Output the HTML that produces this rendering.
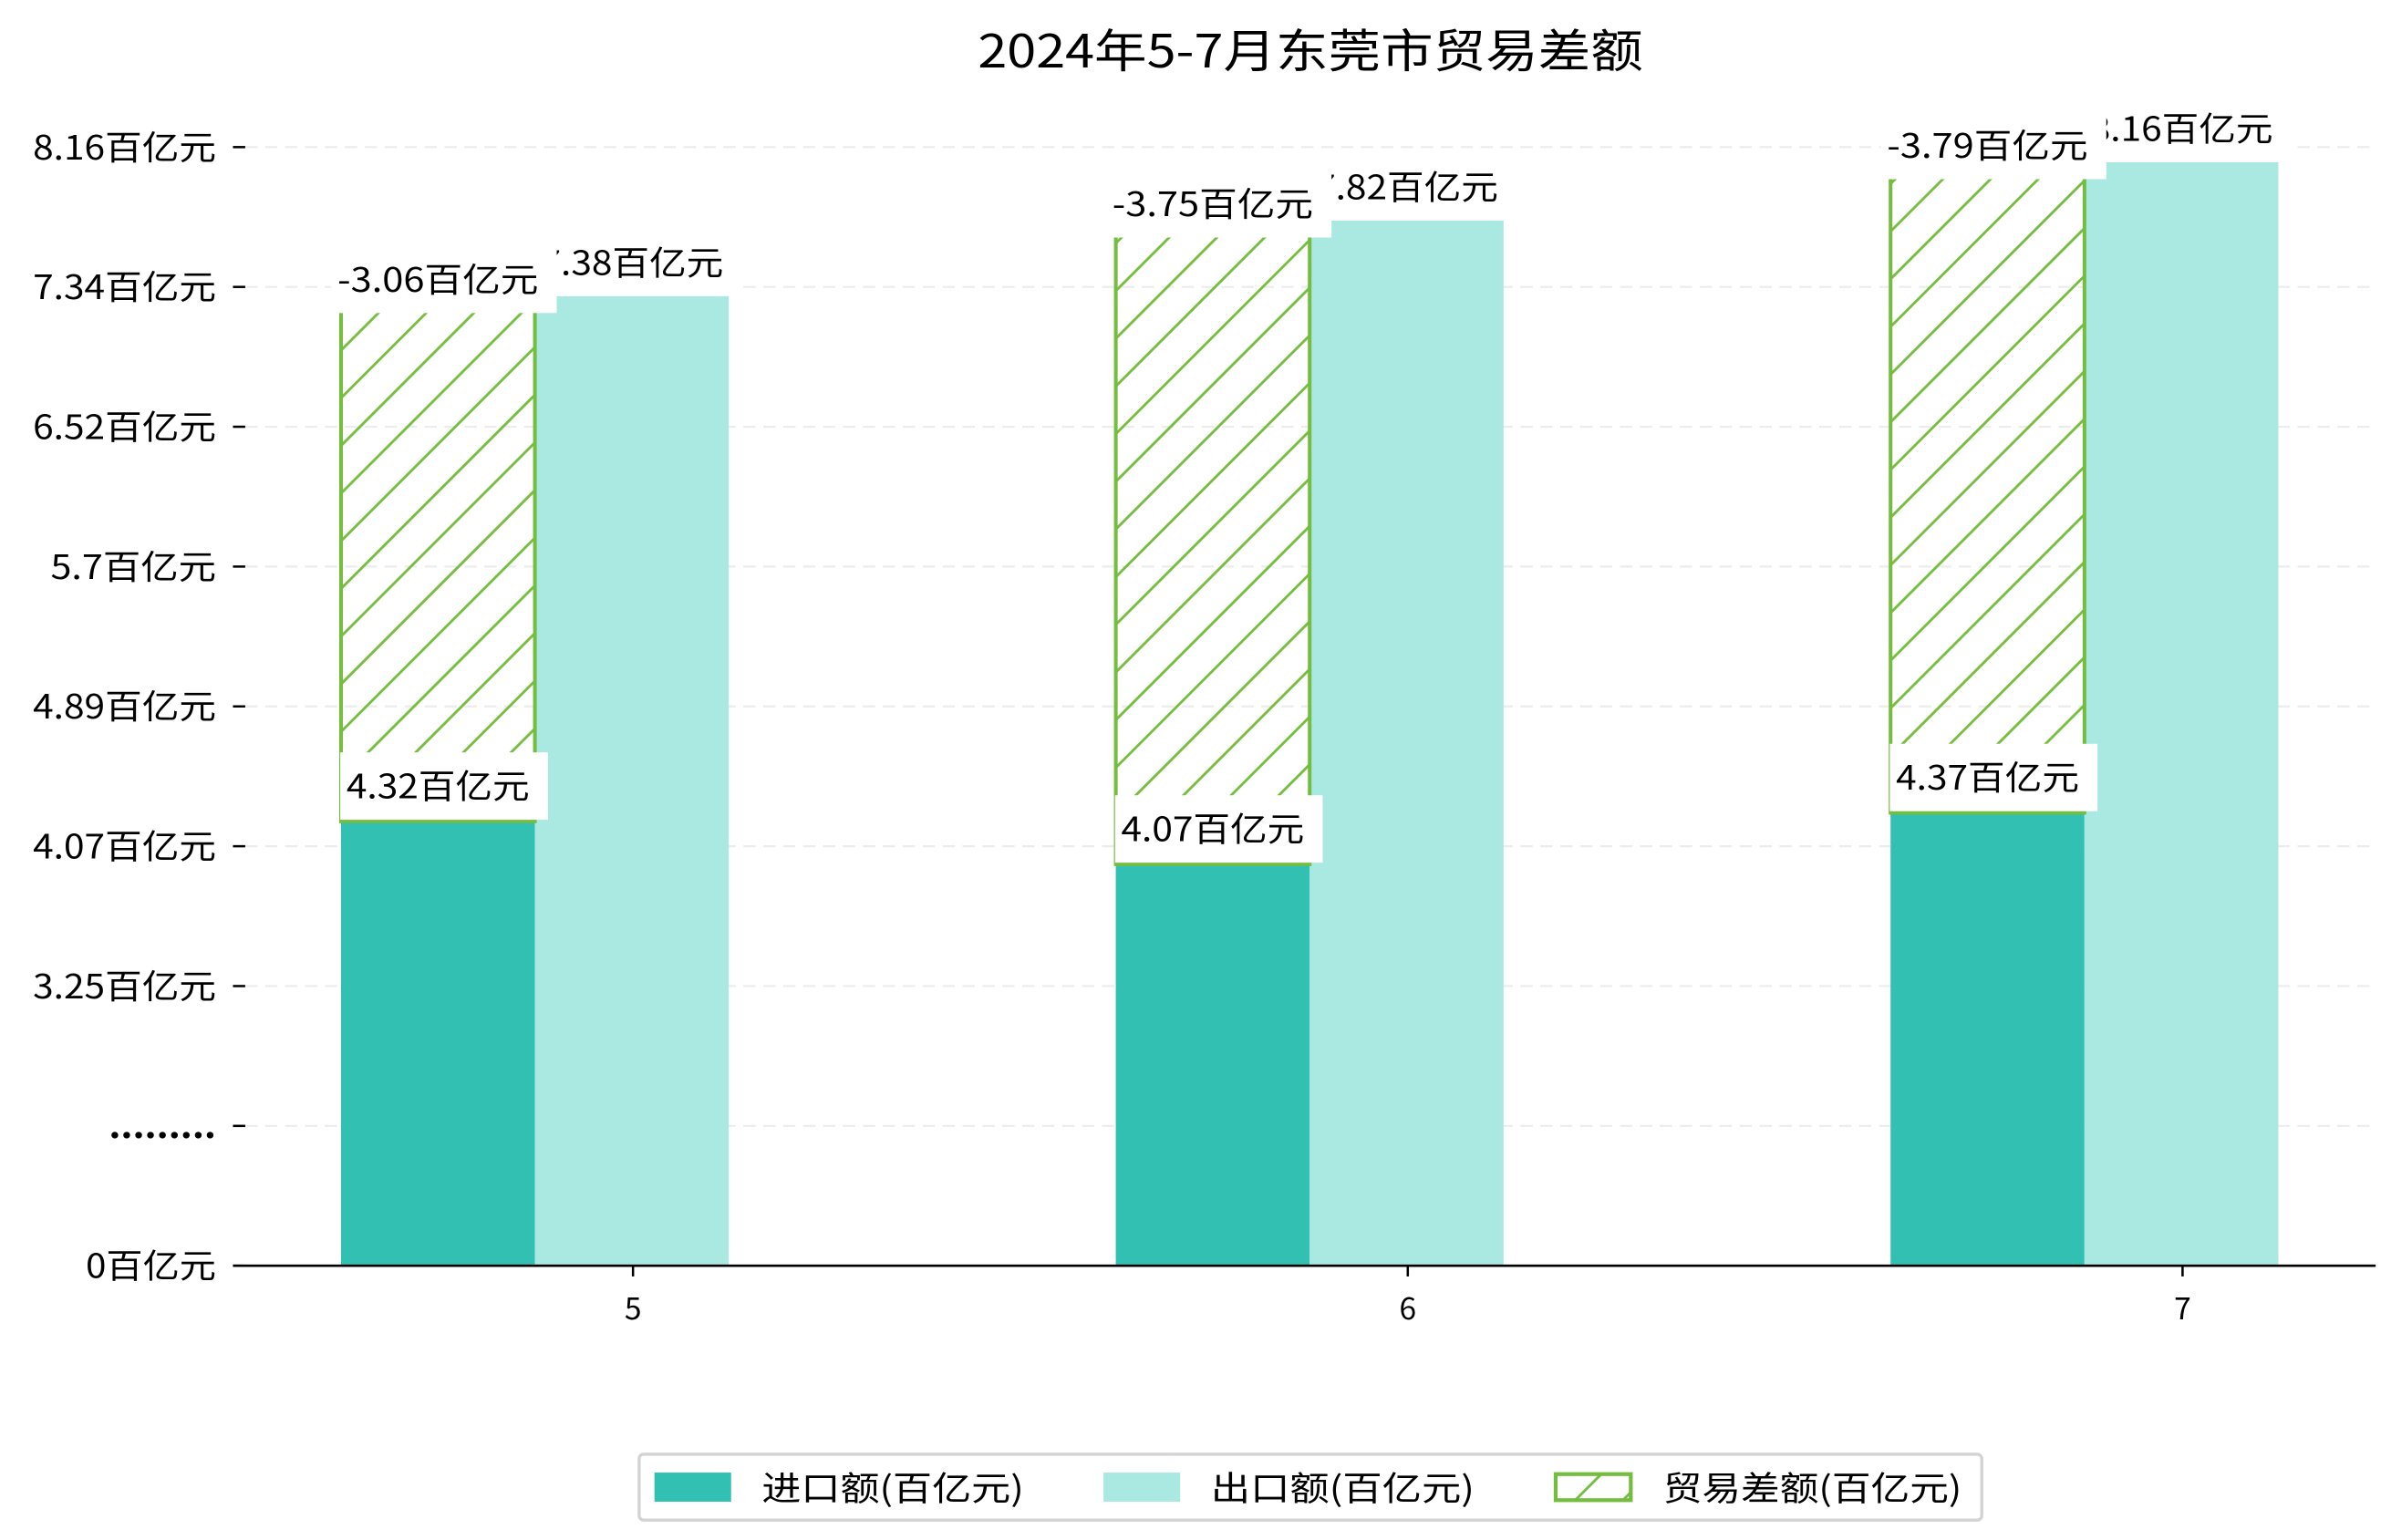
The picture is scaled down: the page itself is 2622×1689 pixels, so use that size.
<!DOCTYPE html>
<html><head><meta charset="utf-8">
<style>
html,body{margin:0;padding:0;background:#fff;}
svg{display:block;}
text{font-family:"Noto Sans CJK SC","WenQuanYi Zen Hei",sans-serif;fill:#000;}
</style></head>
<body>
<svg id="chart" width="2622" height="1689" viewBox="0 0 1560 1005" preserveAspectRatio="none" xmlns="http://www.w3.org/2000/svg">
<defs>
<pattern id="hatch" patternUnits="userSpaceOnUse" width="22" height="22" patternTransform="rotate(45)">
<line x1="11" y1="-1" x2="11" y2="23" stroke="#74bd3e" stroke-width="1.7"/>
</pattern>
</defs>
<text x="855" y="44" font-size="30" text-anchor="middle" textLength="434" lengthAdjust="spacingAndGlyphs">2024年5-7月东莞市贸易差额</text>
<g id="grid"></g>
<g id="bars"></g>
<g id="labels"></g>
<g id="axes"></g>
<g>
<rect x="417" y="949" width="876" height="43" rx="3" fill="#fff" stroke="#d3d3d3" stroke-width="2"/>
<rect x="427" y="961" width="50" height="19" fill="#32c0b3"/>
<text x="497" y="979" font-size="22" textLength="171" lengthAdjust="spacingAndGlyphs">进口额(百亿元)</text>
<rect x="720" y="961" width="50" height="19" fill="#aae8e2"/>
<text x="790" y="979" font-size="22" textLength="172" lengthAdjust="spacingAndGlyphs">出口额(百亿元)</text>
<rect x="1015" y="962" width="49" height="17" fill="url(#hatch)" stroke="#74bd3e" stroke-width="2.5"/>
<text x="1085" y="979" font-size="22" textLength="195" lengthAdjust="spacingAndGlyphs">贸易差额(百亿元)</text>
</g>
</svg>
<script>
const months = ["5", "6", "7"];
const importVals = [4.32, 4.07, 4.37];
const exportVals = [7.38, 7.82, 8.16];
const balanceVals = [-3.06, -3.75, -3.79];
const yTickLabels = ["0百亿元", ".........", "3.25百亿元", "4.07百亿元", "4.89百亿元", "5.7百亿元", "6.52百亿元", "7.34百亿元", "8.16百亿元"];

const NS = "http://www.w3.org/2000/svg";
const baseY = 826, plotLeft = 152, plotRight = 1550;
function yScale(v){ return Math.min(baseY, 1019.84 - 112 * v); }
function xCenter(i){ return 349 + i * 505.5; }
const barW = 126.5;
function tickY(k){ return baseY - k * (baseY - 96) / (yTickLabels.length - 1); }
function textLen(s){ let w = 0; for (const ch of s) w += ch.charCodeAt(0) < 256 ? 11.5 : 24.5; return w; }
function mk(tag, attrs, parent){
  const e = document.createElementNS(NS, tag);
  for (const k in attrs) e.setAttribute(k, attrs[k]);
  parent.appendChild(e); return e;
}
const grid = document.getElementById('grid');
const bars = document.getElementById('bars');
const labels = document.getElementById('labels');
const axes = document.getElementById('axes');

yTickLabels.forEach((lab, k) => {
  const y = tickY(k);
  if (k > 0) {
    const g = mk('line', {x1: 160, x2: plotRight, y1: y, y2: y, stroke: '#ececec', 'stroke-width': 1.3, 'stroke-dasharray': '8,5'}, grid);
    
    
  }
  const t = mk('line', {x1: 152, x2: 160, y1: y, y2: y, stroke: '#000', 'stroke-width': 1.5}, axes);
  
  
  const isDots = lab.indexOf('百') < 0 && lab.indexOf('.') === 0;
  const w = isDots ? 70 : textLen(lab);
  const tx = mk('text', {x: 141, y: y + 8, 'font-size': 22, 'text-anchor': 'end', textLength: w, lengthAdjust: 'spacingAndGlyphs', 'font-weight': isDots ? 'bold' : 'normal'}, axes);
  tx.textContent = lab;
  
  
});
const ax = mk('line', {x1: plotLeft, x2: plotRight, y1: baseY, y2: baseY, stroke: '#000', 'stroke-width': 1.6}, axes);



function addLabel(text, cx, cy, name){
  const g = mk('g', {}, labels);
  
  
  const w = textLen(text);
  mk('rect', {fill: '#fff', x: cx - w / 2 - 4, y: cy - 22, width: w + 16, height: 44}, g);
  const t = mk('text', {x: cx, y: cy + 8, 'font-size': 22, 'text-anchor': 'middle', textLength: w, lengthAdjust: 'spacingAndGlyphs'}, g);
  t.textContent = text;
}

months.forEach((m, i) => {
  const c = xCenter(i);
  const yi = yScale(importVals[i]);
  const ye = yScale(exportVals[i]);
  const yb = yScale(importVals[i] + Math.abs(balanceVals[i]));
  const bi = mk('rect', {x: c - barW, y: yi, width: barW, height: baseY - yi, fill: '#32c0b3'}, bars);
  
  
  const be = mk('rect', {x: c, y: ye, width: barW, height: baseY - ye, fill: '#aae8e2'}, bars);
  
  
  const bb = mk('rect', {x: c - barW, y: yb, width: barW, height: yi - yb, fill: 'url(#hatch)', stroke: '#74bd3e', 'stroke-width': 2.4}, bars);
  
  
  const xt = mk('line', {x1: c + 64, x2: c + 64, y1: baseY, y2: baseY + 7, stroke: '#000', 'stroke-width': 1.5}, axes);
  
  
  const xl = mk('text', {x: c + 64, y: 861, 'font-size': 20, 'text-anchor': 'middle'}, axes);
  xl.textContent = m;
  
  
});
months.forEach((m, i) => {
  const c = xCenter(i);
  addLabel(importVals[i].toFixed(2) + '百亿元', c - barW / 2, yScale(importVals[i]) - 23, 'import-value-label-' + m);
});
months.forEach((m, i) => {
  const c = xCenter(i);
  addLabel(exportVals[i].toFixed(2) + '百亿元', c + barW / 2, yScale(exportVals[i]) - 22, 'export-value-label-' + m);
});
months.forEach((m, i) => {
  const c = xCenter(i);
  addLabel(balanceVals[i].toFixed(2) + '百亿元', c - barW / 2, yScale(importVals[i] + Math.abs(balanceVals[i])) - 11, 'balance-value-label-' + m);
});
</script>
</body></html>
